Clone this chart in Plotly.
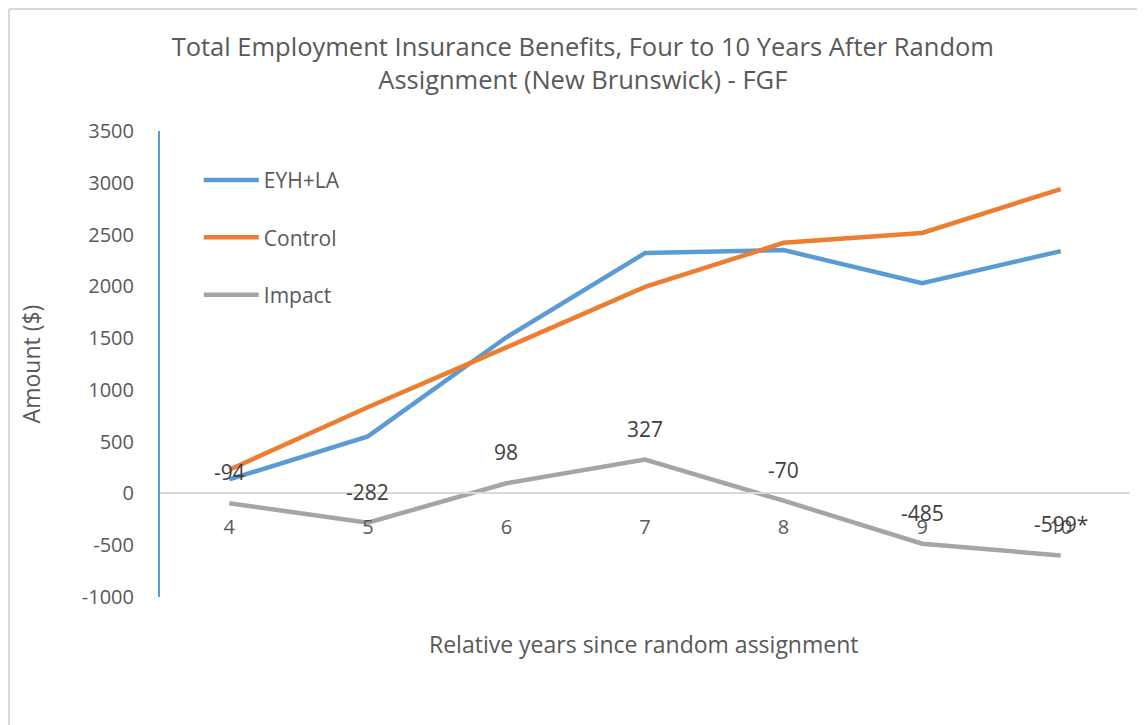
import plotly.graph_objects as go

years = [4, 5, 6, 7, 8, 9, 10]
eyh_la = [135, 551, 1508, 2321, 2350, 2031, 2340]
control = [229, 833, 1410, 1994, 2420, 2516, 2939]
impact = [-94, -282, 98, 327, -70, -485, -599]
impact_labels = ["-94", "-282", "98", "327", "-70", "-485", "-599*"]
y_ticks = [-1000, -500, 0, 500, 1000, 1500, 2000, 2500, 3000, 3500]

FONT = "Open Sans"
TXT = "#595959"

fig = go.Figure()
fig.add_trace(go.Scatter(x=years, y=eyh_la, name="EYH+LA", mode="lines",
                         line=dict(color="#5B9BD5", width=4.5), legendgroup="a"))
fig.add_trace(go.Scatter(x=years, y=control, name="Control", mode="lines",
                         line=dict(color="#ED7D31", width=4.5), legendgroup="b"))
fig.add_trace(go.Scatter(x=years, y=impact, name="Impact", mode="lines",
                         line=dict(color="#A5A5A5", width=4.5), legendgroup="c"))

# data labels for impact line
for x, y, t in zip(years, impact, impact_labels):
    fig.add_annotation(x=x, y=y, text=t, showarrow=False, yshift=31,
                       font=dict(family=FONT, size=21, color="#404040"))

fig.update_layout(
    width=1145, height=725,
    margin=dict(l=152, r=23, t=123, b=136),
    paper_bgcolor="white", plot_bgcolor="white",
    font=dict(family=FONT, size=20, color=TXT),
    title=dict(text="Total Employment Insurance Benefits, Four to 10 Years After Random<br>Assignment (New Brunswick) - FGF",
               x=0.502, xanchor="center", y=0.934, yanchor="middle",
               font=dict(family=FONT, size=25.5, color=TXT)),
    legend=dict(x=0.040, y=0.938, xanchor="left", yanchor="top",
                bgcolor="rgba(0,0,0,0)", itemwidth=55, tracegroupgap=27,
                font=dict(family=FONT, size=21, color=TXT)),
    showlegend=True,
)

fig.update_xaxes(range=[3.5, 10.5], tickvals=years, ticktext=[str(v) for v in years],
                 anchor="free", position=1000 / 4500, showline=True,
                 linecolor="#D9D9D9", linewidth=2, showgrid=False, zeroline=False,
                 ticks="", ticklabelstandoff=16, tickfont=dict(size=20, color=TXT))
fig.update_yaxes(range=[-1000, 3500], tickvals=y_ticks, ticktext=[str(v) for v in y_ticks],
                 showline=True, linecolor="#5B9BD5", linewidth=2, showgrid=False,
                 zeroline=False, ticks="", ticklabelstandoff=20,
                 tickfont=dict(size=20, color=TXT),
                 title=dict(text="Amount ($)", standoff=35, font=dict(size=23, color=TXT)))

fig.add_annotation(xref="paper", yref="paper", x=0.499, y=-0.1009, yanchor="middle",
                   text="Relative years since random assignment", showarrow=False,
                   font=dict(family=FONT, size=23, color=TXT))

# outer chart border (top and left)
fig.add_shape(type="line", xref="paper", yref="paper", x0=-0.1557, x1=1.1, y0=1.2618, y1=1.2618,
              line=dict(color="#D9D9D9", width=2))
fig.add_shape(type="line", xref="paper", yref="paper", x0=-0.1557, x1=-0.1557, y0=1.2618, y1=-0.3,
              line=dict(color="#D9D9D9", width=2))

fig.write_html("out.html")
